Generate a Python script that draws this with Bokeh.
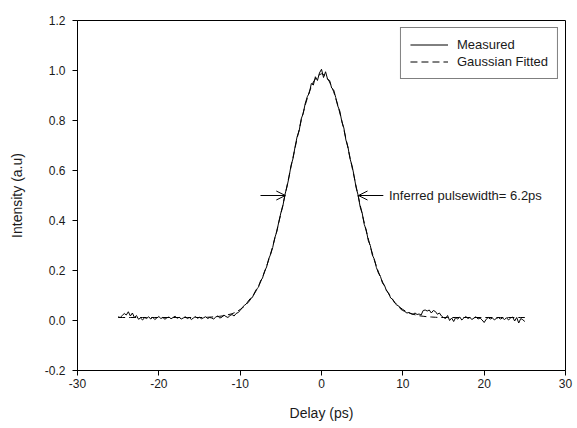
import numpy as np
from bokeh.plotting import figure
from bokeh.models import (Arrow, OpenHead, Label, Legend, LegendItem, FixedTicker,
                          Range1d, NumeralTickFormatter)
from bokeh.embed import file_html
from bokeh.resources import INLINE

# Measured autocorrelation trace, delay grid -25..25 ps, step 0.25 ps
delay_measured = np.linspace(-25, 25, 201)
intensity_measured = [
    0.015, 0.012, 0.020, 0.028,
    0.022, 0.035, 0.018, 0.030,
    0.012, 0.020, 0.005, 0.010,
    0.002, 0.012, 0.008, 0.015,
    0.006, 0.013, 0.004, 0.010,
    0.016, 0.008, 0.012, 0.005,
    0.011, 0.014, 0.007, 0.012,
    0.017, 0.009, 0.013, 0.006,
    0.010, 0.015, 0.008, 0.012,
    0.004, 0.010, 0.016, 0.009,
    0.013, 0.007, 0.011, 0.015,
    0.008, 0.012, 0.010, 0.006,
    0.014, 0.018, 0.010, 0.013,
    0.022, 0.016, 0.012, 0.020,
    0.024, 0.018, 0.028, 0.032,
    0.040, 0.052, 0.060, 0.066,
    0.078, 0.088, 0.092, 0.110,
    0.125, 0.133, 0.158, 0.170,
    0.197, 0.214, 0.246, 0.265,
    0.292, 0.330, 0.355, 0.395,
    0.430, 0.458, 0.503, 0.534,
    0.572, 0.620, 0.648, 0.695,
    0.735, 0.758, 0.806, 0.828,
    0.868, 0.895, 0.910, 0.948,
    0.942, 0.975, 0.960, 0.990,
    1.005, 0.972, 0.995, 0.965,
    0.960, 0.930, 0.922, 0.892,
    0.858, 0.838, 0.795, 0.770,
    0.722, 0.695, 0.648, 0.620,
    0.580, 0.532, 0.502, 0.455,
    0.430, 0.385, 0.362, 0.320,
    0.300, 0.262, 0.245, 0.212,
    0.190, 0.176, 0.150, 0.140,
    0.118, 0.110, 0.090, 0.085,
    0.070, 0.062, 0.058, 0.045,
    0.040, 0.036, 0.030, 0.032,
    0.028, 0.025, 0.030, 0.024,
    0.026, 0.022, 0.040, 0.042,
    0.038, 0.042, 0.030, 0.040,
    0.036, 0.025, 0.030, 0.018,
    0.012, 0.008, 0.020, 0.000,
    0.010, -0.004, 0.012, 0.006,
    0.014, 0.002, 0.010, 0.016,
    0.008, 0.012, 0.004, 0.010,
    0.015, 0.006, 0.010, 0.002,
    -0.008, 0.005, 0.012, 0.006,
    0.010, 0.003, 0.008, 0.012,
    0.006, 0.010, 0.004, 0.011,
    0.002, 0.010, 0.014, -0.002,
    0.012, -0.010, 0.008, 0.003,
    -0.004,
]

# Gaussian fitted curve, delay grid -25..25 ps, step 0.5 ps
delay_fit = np.linspace(-25, 25, 101)
intensity_fit = [
    0.012, 0.012, 0.012, 0.012, 0.012, 0.012, 0.012, 0.012, 0.012, 0.012,
    0.012, 0.012, 0.012, 0.012, 0.012, 0.012, 0.012, 0.012, 0.012, 0.012,
    0.012, 0.012, 0.013, 0.014, 0.015, 0.017, 0.019, 0.023, 0.027, 0.034,
    0.044, 0.056, 0.073, 0.094, 0.121, 0.154, 0.194, 0.241, 0.296, 0.358,
    0.426, 0.499, 0.576, 0.653, 0.728, 0.799, 0.862, 0.915, 0.954, 0.979,
    0.987,
    0.979, 0.954, 0.915, 0.862, 0.799, 0.728, 0.653, 0.576, 0.499, 0.426,
    0.358, 0.296, 0.241, 0.194, 0.154, 0.121, 0.094, 0.073, 0.056, 0.044,
    0.034, 0.027, 0.023, 0.019, 0.017, 0.015, 0.014, 0.013, 0.012, 0.012,
    0.012, 0.012, 0.012, 0.012, 0.012, 0.012, 0.012, 0.012, 0.012, 0.012,
    0.012, 0.012, 0.012, 0.012, 0.012, 0.012, 0.012, 0.012, 0.012, 0.012,
]

x_ticks = [-30, -20, -10, 0, 10, 20, 30]
y_ticks = [-0.2, 0.0, 0.2, 0.4, 0.6, 0.8, 1.0, 1.2]
series_labels = ["Measured", "Gaussian Fitted"]
annotation_text = "Inferred pulsewidth= 6.2ps"
half_max_level = 0.5
left_arrow = (-7.5, -4.45)
right_arrow = (7.6, 4.55)

FONT = "Liberation Sans"
TEXT = "#1a1a1a"

p = figure(width=577, height=428, output_backend="svg", toolbar_location=None,
           x_range=Range1d(-30, 30), y_range=Range1d(-0.2, 1.2),
           min_border_left=77, min_border_right=12, min_border_top=20, min_border_bottom=58)

r_meas = p.line(delay_measured, intensity_measured, line_color="black", line_width=1)
r_fit = p.line(delay_fit, intensity_fit, line_color="black", line_width=1, line_dash="7 4")

p.xgrid.visible = False
p.ygrid.visible = False
p.outline_line_color = "black"
p.outline_line_alpha = 1
p.outline_line_width = 1
p.background_fill_color = "white"
p.border_fill_color = "white"

p.xaxis.ticker = FixedTicker(ticks=x_ticks)
p.yaxis.ticker = FixedTicker(ticks=y_ticks)
p.xaxis.formatter = NumeralTickFormatter(format="0")
p.yaxis.formatter = NumeralTickFormatter(format="0.0")
p.xaxis.axis_label = "Delay (ps)"
p.yaxis.axis_label = "Intensity (a.u)"
for ax in (p.xaxis, p.yaxis):
    ax.axis_line_color = "black"
    ax.major_tick_line_color = "black"
    ax.major_tick_out = 5
    ax.major_tick_in = 0
    ax.minor_tick_line_color = None
    ax.major_label_text_font = FONT
    ax.major_label_text_font_size = "12px"
    ax.major_label_text_color = TEXT
    ax.axis_label_text_font = FONT
    ax.axis_label_text_font_size = "14px"
    ax.axis_label_text_font_style = "normal"
    ax.axis_label_text_color = TEXT
p.xaxis.major_label_standoff = 3
p.yaxis.major_label_standoff = 7
p.xaxis.axis_label_standoff = 14
p.yaxis.axis_label_standoff = 17

legend = Legend(items=[LegendItem(label=series_labels[0], renderers=[r_meas]),
                       LegendItem(label=series_labels[1], renderers=[r_fit])],
                location="top_right")
legend.margin = 7
legend.padding = 9
legend.spacing = 2
legend.glyph_width = 38
legend.glyph_height = 15
legend.label_height = 15
legend.label_standoff = 9
legend.label_text_font = FONT
legend.label_text_font_size = "13px"
legend.label_text_color = TEXT
legend.border_line_color = "black"
legend.border_line_width = 1
legend.background_fill_alpha = 1
p.add_layout(legend)

for (xs, xe) in (left_arrow, right_arrow):
    p.add_layout(Arrow(end=OpenHead(size=9, line_width=1, line_color="black"),
                       x_start=xs, y_start=half_max_level,
                       x_end=xe, y_end=half_max_level,
                       line_color="black", line_width=1))
p.add_layout(Label(x=right_arrow[0] + 0.7, y=half_max_level, text=annotation_text,
                   text_font=FONT, text_font_size="13px", text_baseline="middle",
                   text_color=TEXT))

open("out.html", "w").write(file_html(p, INLINE))
